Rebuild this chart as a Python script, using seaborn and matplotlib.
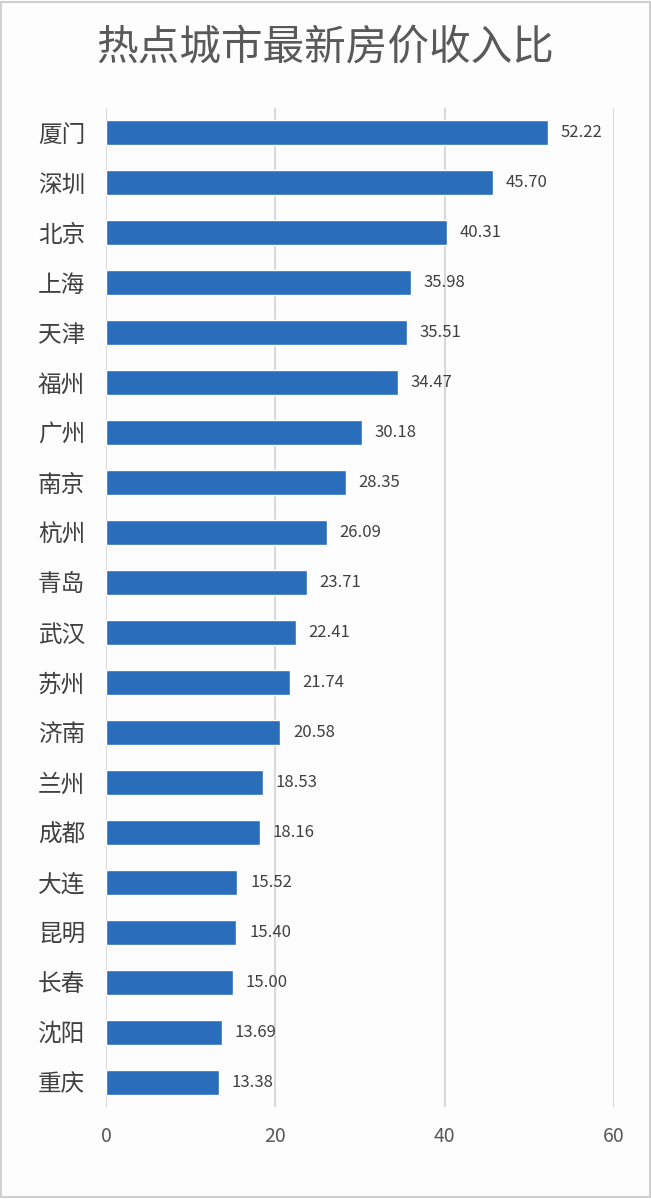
import pandas as pd
import seaborn as sns
import matplotlib.pyplot as plt

cities = ["厦门", "深圳", "北京", "上海", "天津", "福州", "广州", "南京", "杭州", "青岛",
          "武汉", "苏州", "济南", "兰州", "成都", "大连", "昆明", "长春", "沈阳", "重庆"]
ratios = [52.22, 45.70, 40.31, 35.98, 35.51, 34.47, 30.18, 28.35, 26.09, 23.71,
          22.41, 21.74, 20.58, 18.53, 18.16, 15.52, 15.40, 15.00, 13.69, 13.38]
xticks = [0, 20, 40, 60]

df = pd.DataFrame({"city": cities, "ratio": ratios})

sns.set_theme(style="white")
plt.rcParams['font.family'] = ['Noto Sans CJK SC', 'DejaVu Sans']

fig = plt.figure(figsize=(6.51, 11.99), dpi=100, facecolor="#fdfdfd")
ax = fig.add_axes([0.1628, 0.0767, 0.7804, 0.8333])
ax.set_facecolor("#fdfdfd")

sns.barplot(data=df, x="ratio", y="city", color="#2a6ebb", width=0.5,
            saturation=1, ax=ax, zorder=3)

# value labels
for i, v in enumerate(ratios):
    ax.text(v + 1.5, i, f"{v:.2f}", va="center", ha="left", fontsize=12, color="#404040")

ax.set_xlim(0, 60)
ax.set_ylim(19.5, -0.5)
ax.set_xticks(xticks)
ax.set_xticklabels([str(t) for t in xticks], fontsize=14, color="#595959")
ax.tick_params(axis="y", labelsize=17, labelcolor="#404040", length=0, pad=15)
ax.tick_params(axis="x", length=0, pad=14)
ax.set_xlabel("")
ax.set_ylabel("")
ax.grid(axis="x", color="#d9d9d9", linewidth=1.5, zorder=0)
for s in ax.spines.values():
    s.set_visible(False)

fig.text(0.5, 0.9595, "热点城市最新房价收入比", ha="center", va="center",
         fontsize=30, color="#595959")

border = plt.Rectangle((0.002, 0.002), 0.996, 0.996, transform=fig.transFigure,
                       fill=False, edgecolor="#d0d0d0", linewidth=1.5)
fig.patches.append(border)

fig.savefig("out.png", dpi=100, facecolor=fig.get_facecolor())
